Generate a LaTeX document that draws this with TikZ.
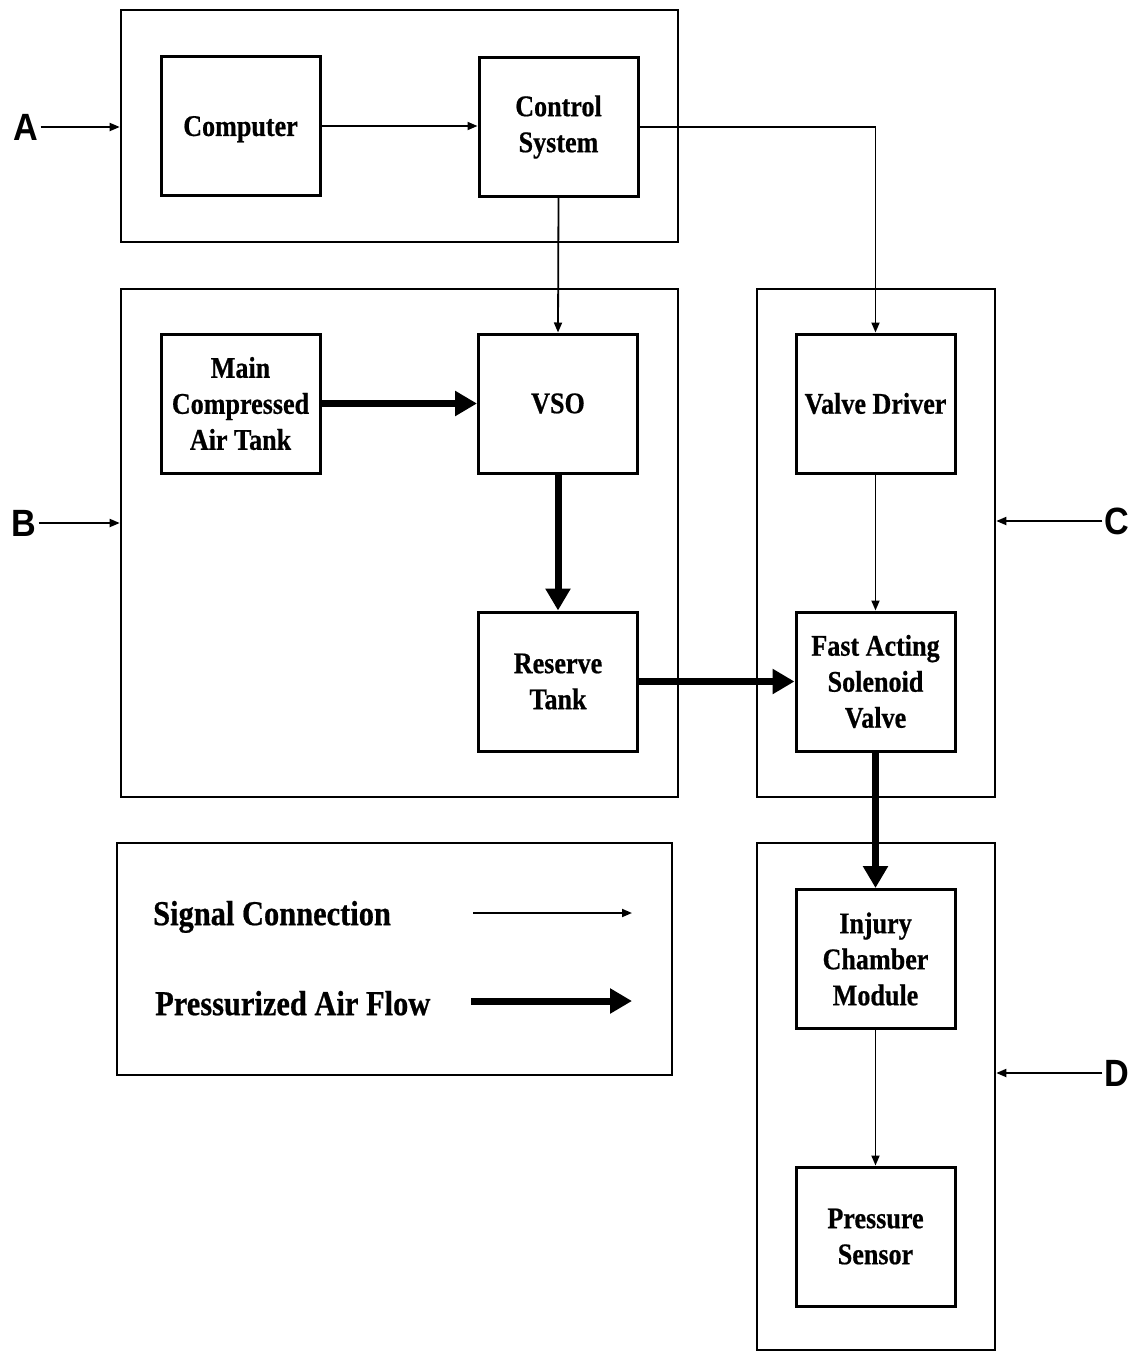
\documentclass[tikz,border=0pt]{standalone}
\usepackage{fontspec}
\usetikzlibrary{arrows.meta}
\newfontfamily\boxfont[FakeStretch=0.87,FakeBold=0.6]{Liberation Serif}
\newfontfamily\lblfont[FakeStretch=0.9]{Liberation Sans}
\begin{document}
\begin{tikzpicture}[x=1pt,y=-1pt,
  blk/.style={draw, line width=3pt, minimum width=159pt, minimum height=139pt, inner sep=0pt,
    align=center, font=\boxfont\bfseries\fontsize{30}{36}\selectfont},
  grp/.style={draw, line width=2.6pt, inner sep=0pt},
  sig/.style={line width=1.8pt, -{Triangle[length=10pt,width=8pt]}},
  air/.style={line width=7pt, -{Triangle[length=22pt,width=24pt]}},
  lbl/.style={font=\lblfont\bfseries\fontsize{38}{40}\selectfont, inner sep=2pt},
  leg/.style={font=\boxfont\bfseries\fontsize{35}{40}\selectfont, inner sep=0pt, anchor=west, text depth=0pt}]
\useasboundingbox (0,0) rectangle (1139,1352);
% group boxes
\node[grp, minimum width=557pt, minimum height=232pt] (GA) at (399.5,126) {};
\node[grp, minimum width=557pt, minimum height=508pt] (GB) at (399.5,543) {};
\node[grp, minimum width=238pt, minimum height=508pt] (GC) at (876,543) {};
\node[grp, minimum width=555pt, minimum height=232pt] (GL) at (394.5,959) {};
\node[grp, minimum width=238pt, minimum height=507pt] (GD) at (876,1096.5) {};
% blocks
\node[blk, text depth=0pt] (comp) at (240.5,126) {Computer};
\node[blk] (ctrl) at (558.5,127) {Control\\System};
\node[blk] (main) at (240.5,403.5) {Main\\Compressed\\Air Tank};
\node[blk] (vso) at (558,403.5) {VSO};
\node[blk] (res) at (558,681.5) {Reserve\\Tank};
\node[blk] (vd) at (875.5,403.5) {Valve Driver};
\node[blk] (fast) at (875.5,681.5) {Fast Acting\\Solenoid\\Valve};
\node[blk] (inj) at (875.5,959) {Injury\\Chamber\\Module};
\node[blk] (ps) at (875.5,1236.5) {Pressure\\Sensor};
% side labels
\node[lbl] (A) at (26,127) {A};
\node[lbl] (B) at (24,523) {B};
\node[lbl] (C) at (1117,521) {C};
\node[lbl] (D) at (1117,1073) {D};
\draw[sig] (A.east) -- (GA.west |- A.east);
\draw[sig] (B.east) -- (GB.west |- B.east);
\draw[sig] (C.west) -- (GC.east |- C.west);
\draw[sig] (D.west) -- (GD.east |- D.west);
% signal connections
\draw[sig] (comp.east) -- (ctrl.west |- comp.east);
\draw[sig] (ctrl.south) -- (vso.north);
\draw[sig] (ctrl.east) -| (vd.north);
\draw[sig] (vd.south) -- (fast.north);
\draw[sig] (inj.south) -- (ps.north);
% air flow
\draw[air] (main.east) -- (vso.west);
\draw[air] (vso.south) -- (res.north);
\draw[air] (res.east) -- (fast.west);
\draw[air] (fast.south) -- (inj.north);
% legend
\node[leg] (ls) at (153,913) {Signal Connection};
\node[leg] (lp) at (155,1003) {Pressurized Air Flow};
\coordinate (s1) at (473,913);
\coordinate (s2) at (632,913);
\coordinate (p1) at (471,1001);
\coordinate (p2) at (632,1001);
\draw[sig] (s1) -- (s2);
\draw[air] (p1) -- (p2);
\end{tikzpicture}
\end{document}
